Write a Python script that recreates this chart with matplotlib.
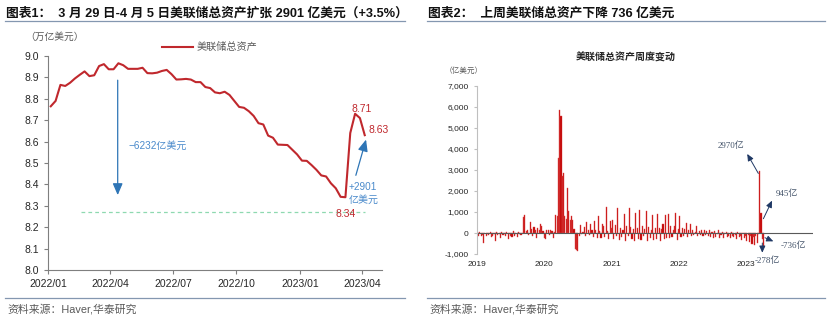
import numpy as np
import pandas as pd
import matplotlib
matplotlib.use("Agg")
import matplotlib.pyplot as plt
import matplotlib.dates as mdates
from matplotlib.lines import Line2D
from matplotlib.ticker import FuncFormatter, MultipleLocator
from matplotlib.transforms import offset_copy

plt.rcParams['font.family'] = ['Liberation Sans', 'Noto Sans CJK SC', 'DejaVu Sans']
plt.rcParams['axes.unicode_minus'] = False

W, H = 832, 324
RED = '#C0282D'
BAR_RED = '#C00000'
BAR_EDGE = '#DE4A4A'
BLUE = '#2E75B6'
NAVY = '#1F3864'
SLATE = '#44546A'
RULE = '#8497B0'
GRAY = '#595959'

# Fed total assets, weekly (trillion USD), 2022-01-05 .. 2023-04-05
total_assets = [8.765, 8.79, 8.865, 8.86, 8.875, 8.895, 8.912, 8.928, 8.906, 8.91,
                8.953, 8.962, 8.938, 8.938, 8.966, 8.957, 8.94, 8.94, 8.94, 8.945,
                8.92, 8.919, 8.922, 8.93, 8.935, 8.915, 8.89, 8.891, 8.893, 8.89,
                8.878, 8.878, 8.855, 8.85, 8.83, 8.826, 8.833, 8.818, 8.79, 8.762,
                8.758, 8.742, 8.72, 8.686, 8.68, 8.628, 8.618, 8.586, 8.585, 8.584,
                8.562, 8.54, 8.511, 8.51, 8.49, 8.468, 8.442, 8.437, 8.405, 8.382,
                8.342, 8.34, 8.64, 8.73, 8.71, 8.63]

# weekly change of Fed total assets (100 million USD)
chg_2019 = [-80, -150, 30, -120,
            -90, -480, 20, -160,
            -60, -110, 40, -200,
            -130, -50, -390, 60,
            -100, -70, -250, 30, -90,
            -60, -160, 50, -280,
            -40, -120, -200, 80, -150,
            -30, -180, 60, -50,
            -100, 20, 740, 880,
            110, 150, -80, 520, 200,
            -140, 300, 140, -230, 250,
            160, 420, 330, 100]
chg_2020 = [-250, -300, 150, 120, -90,
            140, 90, -260, 60,
            850, 820, 3570, 5860,
            5570, 2720, 2850, 800, 650,
            2130, 1040, 640, 830,
            610, 180, -740, -820,
            -880, -120, 390, -60, 70,
            270, -150, 540, 120,
            -110, 420, 160, -200, 560,
            120, -240, 790, 110,
            -260, 450, 330, -210,
            1220, 90, -300, 560, 230]
chg_2021 = [600, -280, 380, -150,
            1170, -330, 250, -200,
            140, 900, -360, 310, -120,
            1190, 300, -300, 200,
            -380, 950, 240, -280,
            1110, -350, 330, -150, 180,
            1060, -400, 280, -260,
            120, 870, -330, 260,
            -300, 920, 220, -380, 170,
            420, -280, 870, -220,
            900, -250, 310, -180,
            150, 350, 950, -320, 210]
chg_2022 = [820, -200, 260, -150,
            180, 470, -170, 120,
            440, -120, 150, -90, 60,
            310, -160, 100, -80,
            120, -140, 160, -110,
            90, -130, 150, -200, 60,
            -230, 80, -170, -60,
            130, -240, -90, 40, -250,
            -70, 50, -180, -130,
            -260, 40, -150, -210,
            -90, -300, 30, -180, -140,
            -320, 20, -240, -150]
chg_2023 = [-380, -90, -450, -120,
            -500, -210, -560, -160,
            -460, -30, 2970, 945, -278,
            -736]
weekly_change = chg_2019 + chg_2020 + chg_2021 + chg_2022 + chg_2023

left_title = '图表1：  3 月 29 日-4 月 5 日美联储总资产扩张 2901 亿美元（+3.5%）'
right_title = '图表2：  上周美联储总资产下降 736 亿美元'
source = '资料来源：Haver,华泰研究'


def fx(x):
    return x / W


def fy(y):
    return 1 - y / H


fig = plt.figure(figsize=(W / 100, H / 100), dpi=100)

# headers, rules and footers
for x0, x1, title in [(6, 405, left_title), (428, 825, right_title)]:
    fig.text(fx(x0), fy(13), title, fontsize=9.2, fontweight='bold', va='center', color='#111111')
    fig.add_artist(Line2D([fx(x0 - 1), fx(x1)], [fy(21), fy(21)], color=RULE, lw=0.9))
    fig.add_artist(Line2D([fx(x0 - 1), fx(x1)], [fy(298), fy(298)], color=RULE, lw=0.9))
    fig.text(fx(x0 + 1), fy(309), source, fontsize=7.8, va='center', color=GRAY)

# ---- left: total assets level ----
dates = pd.date_range(end='2023-04-05', periods=len(total_assets), freq='W-WED')
ax = fig.add_axes([fx(48), fy(270), fx(382 - 48), (270 - 56) / H])
ax.plot(dates, total_assets, color=RED, lw=1.5)
ax.set_xlim(pd.Timestamp('2022-01-01'), pd.Timestamp('2023-04-30'))
ax.set_ylim(8.0, 9.0)
ax.yaxis.set_major_locator(MultipleLocator(0.1))
ax.yaxis.set_major_formatter(FuncFormatter(lambda v, p: f'{v:.1f}'))
ax.xaxis.set_major_locator(mdates.MonthLocator(bymonth=[1, 4, 7, 10]))
ax.xaxis.set_major_formatter(mdates.DateFormatter('%Y/%m'))
for s in ['top', 'right']:
    ax.spines[s].set_visible(False)
for s in ['left', 'bottom']:
    ax.spines[s].set_color('#7F7F7F')
    ax.spines[s].set_linewidth(0.8)
ax.tick_params(labelsize=7.5, colors='#7F7F7F', labelcolor='#262626', length=3, width=0.8)

fig.text(fx(25), fy(37), '（万亿美元）', fontsize=7, va='center', color=GRAY)
fig.add_artist(Line2D([fx(162), fx(193)], [fy(47), fy(47)], color=RED, lw=1.5))
fig.text(fx(197), fy(47), '美联储总资产', fontsize=7.3, va='center', color=GRAY)

peak_day = pd.Timestamp('2022-04-12')
ax.annotate('', xy=(peak_day, 8.337), xytext=(peak_day, 8.90),
            arrowprops=dict(arrowstyle='-|>,head_width=0.3,head_length=0.7', color=BLUE, lw=0.9))
ax.text(pd.Timestamp('2022-04-27'), 8.58, '−6232亿美元', fontsize=7.2, color='#4A8ACB', va='center')

ax.plot([pd.Timestamp('2022-02-18'), pd.Timestamp('2023-04-05')], [8.27, 8.27],
        color='#8ED9B0', lw=0.9, ls=(0, (3, 2.5)))

i_min = int(np.argmin(total_assets))
ax.annotate(f'{total_assets[i_min]:.2f}', xy=(dates[i_min], total_assets[i_min]),
            xytext=(0, -12), textcoords='offset points', ha='center', va='center',
            fontsize=7.5, color=RED)
ax.annotate(f'{total_assets[-2]:.2f}', xy=(dates[-2], total_assets[-2]),
            xytext=(1.5, 6.5), textcoords='offset points', ha='center', va='center',
            fontsize=7.5, color=RED)
ax.annotate(f'{total_assets[-1]:.2f}', xy=(dates[-1], total_assets[-1]),
            xytext=(2.5, 3.6), textcoords='offset points', ha='left', va='center',
            fontsize=7.5, color=RED)

ax.annotate('', xy=(pd.Timestamp('2023-04-08'), 8.622), xytext=(pd.Timestamp('2023-03-22'), 8.43),
            arrowprops=dict(arrowstyle='-|>,head_width=0.3,head_length=0.7', color=BLUE, lw=0.9))
ax.text(pd.Timestamp('2023-03-13'), 8.39, '+2901', fontsize=7.2, color='#4A8ACB', va='center')
ax.text(pd.Timestamp('2023-03-13'), 8.33, '亿美元', fontsize=7.2, color='#4A8ACB', va='center')

# ---- right: weekly change bars ----
wdates = pd.date_range(end='2023-04-05', periods=len(weekly_change), freq='W-WED')
bx = fig.add_axes([fx(477), fy(254), fx(813 - 477), (254 - 86) / H])
bx.bar(wdates, weekly_change, width=6, color=BAR_RED, edgecolor=BAR_EDGE, linewidth=0.3)
bx.axhline(0, color=GRAY, lw=0.8)
bx.set_xlim(pd.Timestamp('2019-01-01'), pd.Timestamp('2023-12-29'))
bx.set_ylim(-1000, 7000)
bx.yaxis.set_major_locator(MultipleLocator(1000))
bx.yaxis.set_major_formatter(FuncFormatter(lambda v, p: f'{v:,.0f}'))
bx.xaxis.set_major_locator(mdates.YearLocator())
bx.xaxis.set_major_formatter(mdates.DateFormatter('%Y'))
for s in ['top', 'right', 'bottom']:
    bx.spines[s].set_visible(False)
bx.spines['left'].set_color('#BFBFBF')
bx.spines['left'].set_linewidth(0.8)
bx.tick_params(axis='y', labelsize=6, colors='#BFBFBF', labelcolor='#262626', length=2.5, width=0.8)
bx.tick_params(axis='x', labelsize=6, labelcolor='#262626', length=0, pad=5)

fig.text(fx(626), fy(58), '美联储总资产周度变动', fontsize=7.2, fontweight='bold',
         ha='center', va='center', color='#262626')
fig.text(fx(445), fy(71), '（亿美元）', fontsize=5.5, va='center', color=GRAY)

# call-outs for the last four weeks: arrow start, arrow tip and label offsets (points)
# measured from the bar end (or the zero line for the last week)
n = len(weekly_change)
callouts = [(n - 4, True, (-1, -2), (-9, 12), (-20.5, 18), 'center'),
            (n - 3, True, (1.7, -4), (7.9, 9), (10.3, 14), 'left'),
            (n - 2, True, (0, -3), (0, -10), (3.6, -15.5), 'center'),
            (n - 1, False, (1, -3.4), (7, -6), (12, -9), 'left')]
arrow = dict(arrowstyle='-|>,head_width=0.18,head_length=0.4', color=NAVY, lw=0.7,
             shrinkA=0, shrinkB=0)
for i, at_end, start, tip, pos, ha in callouts:
    val = weekly_change[i]
    anchor = (mdates.date2num(wdates[i]), val if at_end else 0)
    t_start = offset_copy(bx.transData, fig=fig, x=start[0], y=start[1], units='points')
    t_tip = offset_copy(bx.transData, fig=fig, x=tip[0], y=tip[1], units='points')
    bx.annotate('', xy=anchor, xycoords=t_tip, xytext=anchor, textcoords=t_start,
                arrowprops=arrow, annotation_clip=False)
    bx.annotate(f'{val}亿', xy=anchor, xytext=pos, textcoords='offset points',
                ha=ha, va='center', fontsize=6.5, color=SLATE,
                family=['Liberation Serif', 'Noto Sans CJK SC'], annotation_clip=False)

fig.savefig('out.png', dpi=100)
